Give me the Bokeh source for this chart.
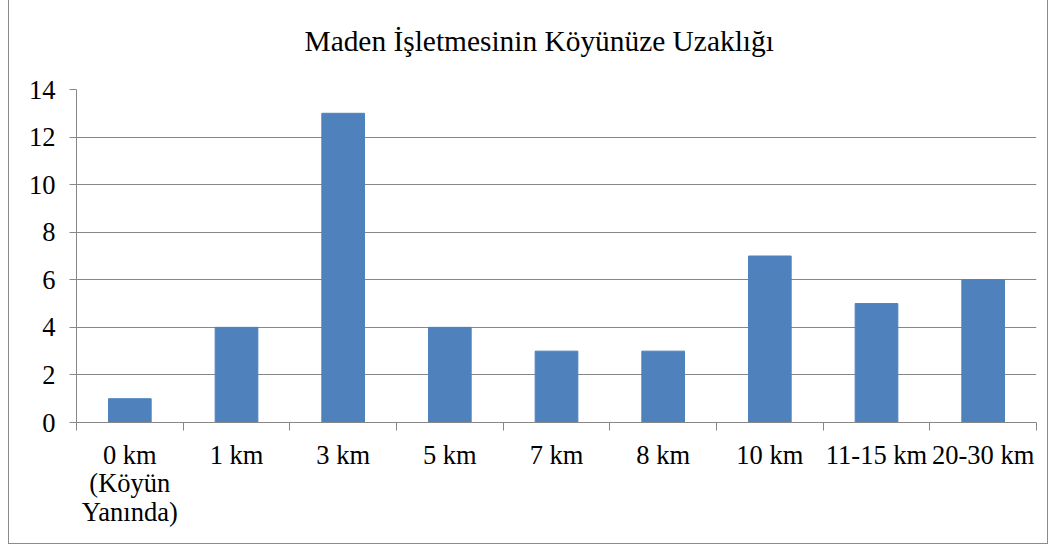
from bokeh.plotting import figure
from bokeh.models import ColumnDataSource, FixedTicker, Range1d
from bokeh.embed import file_html
from bokeh.resources import INLINE

categories = ["0 km\n(Köyün\nYanında)", "1 km", "3 km", "5 km", "7 km", "8 km", "10 km", "11-15 km", "20-30 km"]
values = [1, 4, 13, 4, 3, 3, 7, 5, 6]
y_ticks = [0, 2, 4, 6, 8, 10, 12, 14]
title_text = "Maden İşletmesinin Köyünüze Uzaklığı"

n = len(categories)
centers = [i + 0.5 for i in range(n)]
boundaries = list(range(n + 1))

src = ColumnDataSource(dict(x=centers, top=values))

FONT = "Liberation Serif"
GRAY = "#878787"

p = figure(width=1040, height=558, output_backend="svg", toolbar_location=None,
           x_range=Range1d(0, n), y_range=Range1d(0, 14),
           min_border_left=67, min_border_right=13, min_border_top=102, min_border_bottom=123,
           title=title_text)
p.styles = {"border": "1px solid #8c8c8c", "margin-left": "8px", "margin-top": "-14px"}
p.outline_line_color = None
p.background_fill_color = "white"

p.title.text_font = FONT
p.title.text_font_size = "29.4px"
p.title.text_font_style = "normal"
p.title.text_color = "black"
p.title.align = "left"
p.title.offset = 228
p.title.standoff = 65

p.vbar(x="x", top="top", width=0.4, bottom=0, source=src, color="#4F81BD")

# x axis
p.xaxis.ticker = FixedTicker(ticks=centers, minor_ticks=boundaries)
p.xaxis.major_label_overrides = {c: lab for c, lab in zip(centers, categories)}
p.xaxis.major_tick_out = 0
p.xaxis.major_tick_in = 0
p.xaxis.minor_tick_out = 8
p.xaxis.minor_tick_in = 0
p.xaxis.minor_tick_line_color = GRAY
p.xaxis.axis_line_color = GRAY
p.xaxis.major_label_text_font = FONT
p.xaxis.major_label_text_font_size = "26.5px"
p.xaxis.major_label_text_color = "black"
p.xaxis.major_label_standoff = 9
p.xaxis.major_label_text_line_height = 0.95

# y axis
p.yaxis.ticker = FixedTicker(ticks=y_ticks, minor_ticks=[])
p.yaxis.major_tick_out = 7
p.yaxis.major_tick_in = 0
p.yaxis.major_tick_line_color = GRAY
p.yaxis.axis_line_color = GRAY
p.yaxis.major_label_text_font = FONT
p.yaxis.major_label_text_font_size = "26.5px"
p.yaxis.major_label_text_color = "black"
p.yaxis.major_label_standoff = 14

p.xgrid.grid_line_color = None
p.ygrid.ticker = FixedTicker(ticks=y_ticks)
p.ygrid.grid_line_color = GRAY
p.ygrid.grid_line_width = 1

open("out.html", "w").write(file_html(p, INLINE))
